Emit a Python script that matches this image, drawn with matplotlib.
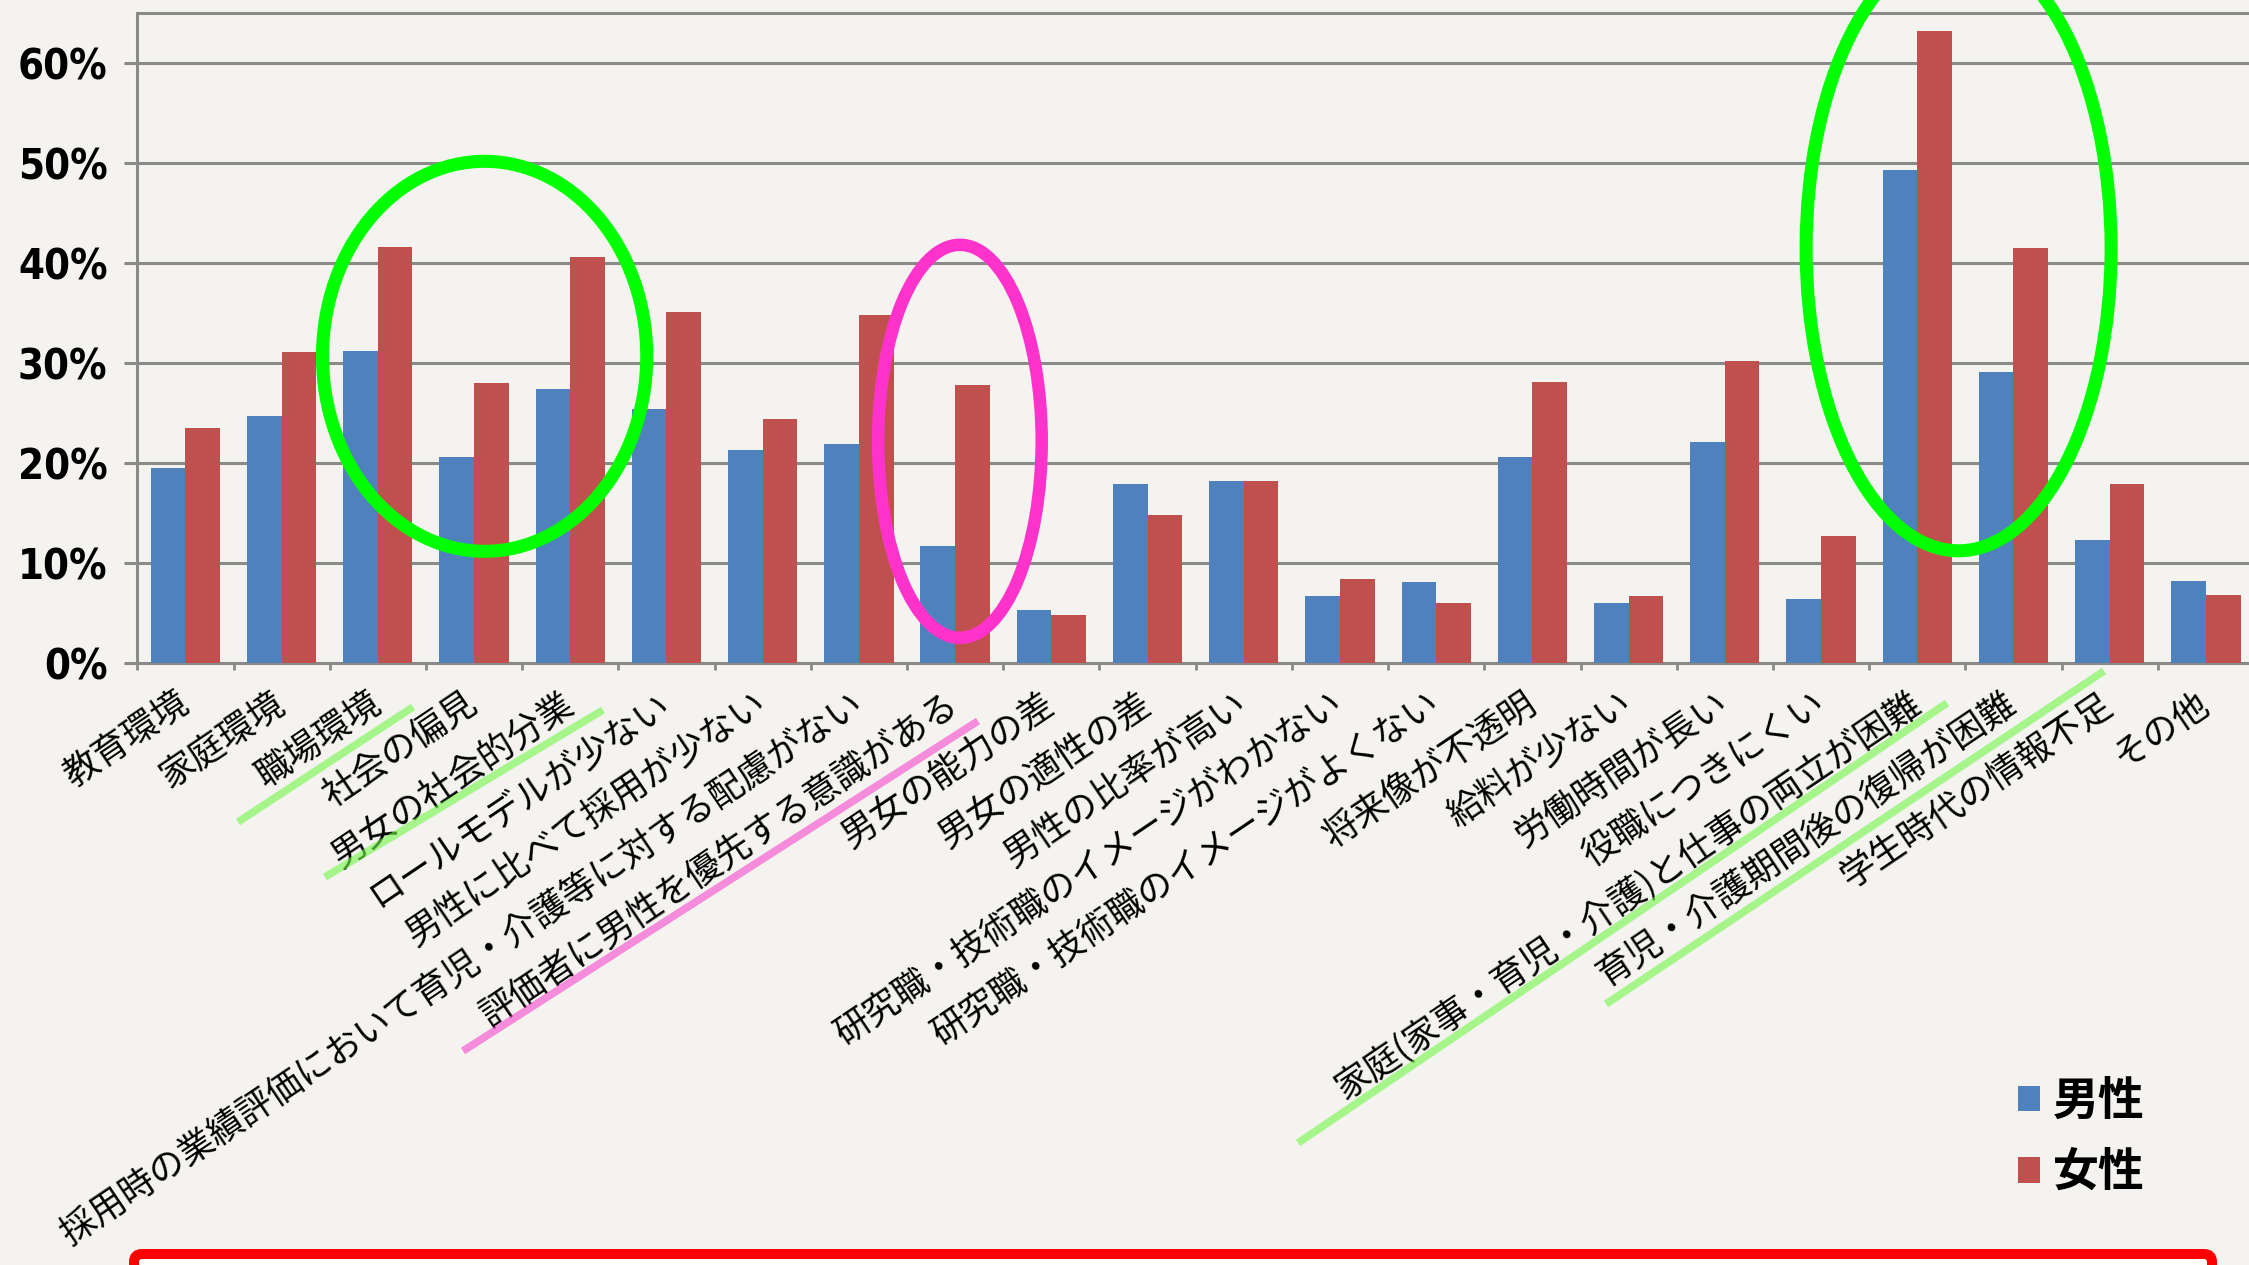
import matplotlib
matplotlib.use('Agg')
import matplotlib.pyplot as plt
from matplotlib import font_manager
from matplotlib.patches import Ellipse, FancyBboxPatch
from matplotlib.lines import Line2D
from matplotlib.transforms import ScaledTranslation
import numpy as np

# ---------------- data ----------------
categories = [
    '教育環境', '家庭環境', '職場環境', '社会の偏見', '男女の社会的分業',
    'ロールモデルが少ない', '男性に比べて採用が少ない',
    '採用時の業績評価において育児・介護等に対する配慮がない',
    '評価者に男性を優先する意識がある', '男女の能力の差', '男女の適性の差',
    '男性の比率が高い', '研究職・技術職のイメージがわかない',
    '研究職・技術職のイメージがよくない', '将来像が不透明', '給料が少ない',
    '労働時間が長い', '役職につきにくい',
    '家庭(家事・育児・介護)と仕事の両立が困難',
    '育児・介護期間後の復帰が困難', '学生時代の情報不足', 'その他',
]
male = [19.5, 24.7, 31.2, 20.6, 27.4, 25.4, 21.3, 21.9, 11.7, 5.3, 17.9,
        18.2, 6.7, 8.1, 20.6, 6.0, 22.1, 6.4, 49.3, 29.1, 12.3, 8.2]
female = [23.5, 31.1, 41.6, 28.0, 40.6, 35.1, 24.4, 34.8, 27.8, 4.8, 14.8,
          18.2, 8.4, 6.0, 28.1, 6.7, 30.2, 12.7, 63.2, 41.5, 17.9, 6.8]
series_names = ['男性', '女性']
ytick_values = [0, 10, 20, 30, 40, 50, 60]
ytick_labels = ['0%', '10%', '20%', '30%', '40%', '50%', '60%']

# ---------------- style ----------------
W, H, DPI = 2249, 1265, 100
BG = '#f4f3ef'
BLUE = '#4f81bd'
RED = '#c0504d'
GRID = '#8a8a8a'

avail = {f.name for f in font_manager.fontManager.ttflist}
CJK = 'Noto Sans CJK JP'
plt.rcParams['font.family'] = [CJK, 'DejaVu Sans']
if 'Liberation Sans Narrow' in avail:
    num_fp = dict(family=['Liberation Sans Narrow'], weight='bold', size=34)
else:
    num_fp = dict(family=['DejaVu Sans'], stretch='condensed', weight='bold', size=30)

fig = plt.figure(figsize=(W / DPI, H / DPI), dpi=DPI, facecolor=BG)

left_px, right_px, top_px, base_px = 137.3, 2254.0, 13.3, 663.3
ax = fig.add_axes([left_px / W, 1 - base_px / H,
                   (right_px - left_px) / W, (base_px - top_px) / H])
ax.set_facecolor(BG)

x = np.arange(len(categories))
bw = 0.36
ax.bar(x - bw / 2, male, width=bw, color=BLUE, linewidth=0, label=series_names[0], zorder=3)
ax.bar(x + bw / 2, female, width=bw, color=RED, linewidth=0, label=series_names[1], zorder=3)

ax.set_xlim(-0.5, len(categories) - 0.5)
ax.set_ylim(0, 65)
ax.set_yticks(ytick_values)
ax.set_yticklabels(ytick_labels)
for t in ax.get_yticklabels():
    t.set_fontproperties(font_manager.FontProperties(**num_fp))
ax.yaxis.grid(True, color=GRID, linewidth=2.2, zorder=0)
ax.set_axisbelow(True)
ax.tick_params(axis='y', length=9.5, width=2.2, color=GRID, pad=12)

ax.set_xticks(x)
ax.set_xticklabels(categories, rotation=34, ha='right', va='center',
                   rotation_mode='anchor', fontsize=25.6, family=[CJK, 'DejaVu Sans'])
shift = ScaledTranslation(0.12, 0, fig.dpi_scale_trans)
for t in ax.get_xticklabels():
    t.set_transform(t.get_transform() + shift)
ax.set_xticks(np.arange(-0.5, len(categories) + 0.5, 1), minor=True)
ax.tick_params(axis='x', which='major', length=0, pad=27)
ax.tick_params(axis='x', which='minor', length=5, width=2.0, color=GRID)

for s in ['left', 'bottom', 'top']:
    ax.spines[s].set_color(GRID)
    ax.spines[s].set_linewidth(2.2)
ax.spines['right'].set_visible(False)

# ---------------- highlight ellipses (data coords) ----------------
ells = [
    dict(xy=(3.11, 30.7), w=3.37, h=39.0, c='#00ff00', lw=9.4),
    dict(xy=(8.05, 22.2), w=1.70, h=39.3, c='#ff33cc', lw=9.0),
    dict(xy=(18.43, 41.5), w=3.17, h=60.5, c='#00ff00', lw=9.4),
]
for e in ells:
    ax.add_patch(Ellipse(e['xy'], e['w'], e['h'], fill=False, edgecolor=e['c'],
                         linewidth=e['lw'], clip_on=False, zorder=6))

# ---------------- label underlines (pixel positions) ----------------
def px(xp, yp):
    return xp / DPI, (H - yp) / DPI

unders = [
    ((238, 822), (413, 707), '#71f749'),
    ((325, 877), (603, 710), '#71f749'),
    ((463, 1051), (978, 721), '#f548cf'),
    ((1298, 1143), (1947, 703), '#71f749'),
    ((1606, 1004), (2104, 671), '#71f749'),
]
for (p0, p1, c) in unders:
    a, b = px(*p0), px(*p1)
    fig.add_artist(Line2D([a[0], b[0]], [a[1], b[1]], transform=fig.dpi_scale_trans,
                          color=c, alpha=0.6, linewidth=5.5, solid_capstyle='butt', zorder=7))

# ---------------- legend ----------------
leg = fig.legend(loc='upper left', bbox_to_anchor=(2018 / W, 1 - 1079 / H),
                 frameon=False, prop=dict(family=[CJK], weight='bold', size=33),
                 handlelength=0.48, handleheight=0.48, handletextpad=0.28,
                 labelspacing=0.55, borderpad=0, borderaxespad=0)

# ---------------- bottom red box ----------------
box = FancyBboxPatch(px(134, 1330), (2212 - 134) / DPI, (1330 - 1254) / DPI,
                     boxstyle='round,pad=0,rounding_size=0.08',
                     transform=fig.dpi_scale_trans, facecolor='white',
                     edgecolor='#ff0000', linewidth=7.2, zorder=5)
fig.add_artist(box)

fig.savefig('out.png', dpi=DPI, facecolor=BG)
